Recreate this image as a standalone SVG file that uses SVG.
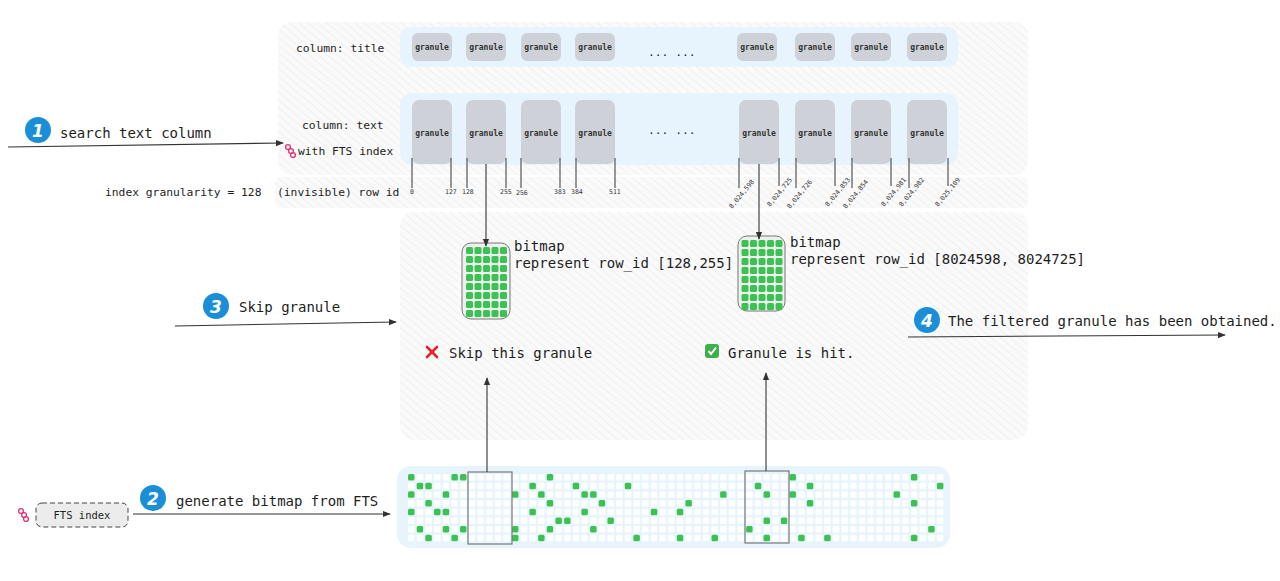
<svg xmlns="http://www.w3.org/2000/svg" width="1280" height="581" viewBox="0 0 1280 581">
<defs>
<pattern id="hatch" width="6" height="6" patternUnits="userSpaceOnUse" patternTransform="rotate(-50)">
<rect width="6" height="6" fill="#fafafa"/>
<line x1="0" y1="0" x2="0" y2="6" stroke="#e6e6e6" stroke-width="1"/>
</pattern>
<pattern id="cellp" x="408" y="474" width="8.67" height="8.67" patternUnits="userSpaceOnUse"><rect width="6.5" height="6.5" rx="1.5" fill="#fff"/></pattern>
<marker id="ah" viewBox="0 0 10 10" refX="9" refY="5" markerWidth="8" markerHeight="8" orient="auto-start-reverse" markerUnits="userSpaceOnUse">
<path d="M0,1 L10,5 L0,9 z" fill="#333"/>
</marker>
<g id="link"><circle cx="-2" cy="-4" r="2.4" fill="none" stroke="#e0357a" stroke-width="1.4"/><circle cx="1" cy="0" r="2.4" fill="none" stroke="#e0357a" stroke-width="1.4"/><circle cx="3" cy="4" r="2.4" fill="none" stroke="#e0357a" stroke-width="1.4"/></g>
<g id="mini">
<rect x="0" y="0" width="7" height="7" rx="1.5"/><rect x="8.5" y="0" width="7" height="7" rx="1.5"/><rect x="17" y="0" width="7" height="7" rx="1.5"/><rect x="25.5" y="0" width="7" height="7" rx="1.5"/><rect x="34" y="0" width="7" height="7" rx="1.5"/>
</g>
<g id="minigrid">
<use href="#mini" y="0"/><use href="#mini" y="9"/><use href="#mini" y="18"/><use href="#mini" y="27"/>
<use href="#mini" y="36"/><use href="#mini" y="45"/><use href="#mini" y="54"/><use href="#mini" y="63"/>
</g>
</defs>
<style>
text{font-family:"DejaVu Sans Mono","Liberation Mono",monospace;fill:#1e1e1e}
.m{font-size:14px}
.s{font-size:11.3px}
.g{font-size:8px;font-weight:bold;fill:#333;text-anchor:middle}
.t{font-size:6.5px;fill:#333}
.band{fill:#e7f4fd}
.gr{fill:#ced2d8}
.tick{stroke:#555;stroke-width:1.2}
.c{stroke:#333;stroke-width:1.1;fill:none}
.num{fill:#1a8fd8}
.nt{font-family:"DejaVu Sans","Liberation Sans",sans-serif;font-size:17px;font-weight:bold;font-style:italic;fill:#fff;text-anchor:middle}
.on{fill:#3cc153}
</style>
<rect width="1280" height="581" fill="#fff"/>
<g id="bg">
<rect x="278" y="22" width="750" height="153" rx="14" fill="url(#hatch)"/>
<rect x="275" y="177" width="753" height="31" rx="6" fill="url(#hatch)"/>
<rect x="400" y="212" width="628" height="228" rx="14" fill="url(#hatch)"/>
</g>
<g id="col-title">
<text class="s" x="296" y="52">column: title</text>
<rect class="band" x="400" y="27" width="558" height="40" rx="10"/>
<rect class="gr" x="412" y="33" width="40" height="28" rx="6"/><text class="g" x="432" y="50">granule</text>
<rect class="gr" x="466" y="33" width="40" height="28" rx="6"/><text class="g" x="486" y="50">granule</text>
<rect class="gr" x="521" y="33" width="40" height="28" rx="6"/><text class="g" x="541" y="50">granule</text>
<rect class="gr" x="575" y="33" width="40" height="28" rx="6"/><text class="g" x="595" y="50">granule</text>
<text class="s" x="648" y="56">...  ...</text>
<rect class="gr" x="737" y="33" width="40" height="28" rx="6"/><text class="g" x="757" y="50">granule</text>
<rect class="gr" x="795" y="33" width="40" height="28" rx="6"/><text class="g" x="815" y="50">granule</text>
<rect class="gr" x="851" y="33" width="40" height="28" rx="6"/><text class="g" x="871" y="50">granule</text>
<rect class="gr" x="907" y="33" width="40" height="28" rx="6"/><text class="g" x="927" y="50">granule</text>
</g>
<g id="col-text">
<text class="s" x="302" y="129">column: text</text>
<use href="#link" x="290" y="151"/>
<text class="s" x="298" y="155">with FTS index</text>
<rect class="band" x="400" y="93" width="558" height="72" rx="12"/>
<rect class="gr" x="412" y="100" width="40" height="64" rx="7"/><text class="g" x="432" y="136">granule</text>
<rect class="gr" x="466" y="100" width="40" height="64" rx="7"/><text class="g" x="486" y="136">granule</text>
<rect class="gr" x="521" y="100" width="40" height="64" rx="7"/><text class="g" x="541" y="136">granule</text>
<rect class="gr" x="575" y="100" width="40" height="64" rx="7"/><text class="g" x="595" y="136">granule</text>
<text class="s" x="648" y="134">...  ...</text>
<rect class="gr" x="739" y="100" width="40" height="64" rx="7"/><text class="g" x="759" y="136">granule</text>
<rect class="gr" x="795" y="100" width="40" height="64" rx="7"/><text class="g" x="815" y="136">granule</text>
<rect class="gr" x="851" y="100" width="40" height="64" rx="7"/><text class="g" x="871" y="136">granule</text>
<rect class="gr" x="907" y="100" width="40" height="64" rx="7"/><text class="g" x="927" y="136">granule</text>
</g>
<g id="rowid">
<text class="s" x="105" y="196">index granularity = 128</text>
<text class="s" x="277" y="196">(invisible) row id</text>
<g class="tick">
<line x1="412" y1="158" x2="412" y2="188"/><line x1="451" y1="158" x2="451" y2="188"/>
<line x1="467" y1="158" x2="467" y2="188"/><line x1="506" y1="158" x2="506" y2="188"/>
<line x1="521" y1="158" x2="521" y2="188"/><line x1="560" y1="158" x2="560" y2="188"/>
<line x1="576" y1="158" x2="576" y2="188"/><line x1="615" y1="158" x2="615" y2="188"/>
<line x1="739" y1="158" x2="739" y2="188"/><line x1="779" y1="158" x2="779" y2="186"/>
<line x1="796" y1="158" x2="796" y2="188"/><line x1="835" y1="158" x2="835" y2="186"/>
<line x1="852" y1="158" x2="852" y2="188"/><line x1="891" y1="158" x2="891" y2="186"/>
<line x1="909" y1="158" x2="909" y2="188"/><line x1="948" y1="158" x2="948" y2="186"/>
</g>
<text class="t" x="410" y="194">0</text><text class="t" x="445" y="194">127</text>
<text class="t" x="462" y="194">128</text><text class="t" x="500" y="194">255</text>
<text class="t" x="516" y="195">256</text><text class="t" x="554" y="194">383</text>
<text class="t" x="571" y="194">384</text><text class="t" x="609" y="194">511</text>
<text class="t" transform="translate(732,209) rotate(-50)">8,024,598</text>
<text class="t" transform="translate(770,207) rotate(-50)">8,024,725</text>
<text class="t" transform="translate(790,209) rotate(-50)">8,024,726</text>
<text class="t" transform="translate(828,207) rotate(-50)">8,024,853</text>
<text class="t" transform="translate(846,209) rotate(-50)">8,024,854</text>
<text class="t" transform="translate(884,207) rotate(-50)">8,024,981</text>
<text class="t" transform="translate(902,207) rotate(-50)">8,024,982</text>
<text class="t" transform="translate(938,207) rotate(-50)">8,025,109</text>
</g>
<g id="bitmap-left">
<rect x="462" y="243" width="48" height="76" rx="9" fill="#f0f0f0" stroke="#777" stroke-width="1"/>
<use href="#minigrid" x="466" y="247" class="on"/>
<text class="m" x="514" y="251">bitmap</text>
<text class="m" x="514" y="268">represent row_id [128,255]</text>
</g>
<g id="bitmap-right">
<rect x="738" y="236" width="47" height="75" rx="9" fill="#f0f0f0" stroke="#777" stroke-width="1"/>
<use href="#minigrid" x="741.5" y="240" class="on"/>
<text class="m" x="790" y="247">bitmap</text>
<text class="m" x="790" y="264">represent row_id [8024598, 8024725]</text>
</g>
<g id="results">
<path d="M427,347 L437,357 M437,347 L427,357" stroke="#e2232a" stroke-width="2.6" stroke-linecap="round"/>
<text class="m" x="449" y="358">Skip this granule</text>
<rect x="705" y="344" width="14" height="14" rx="3" fill="#3cb04a"/>
<path d="M708.5,351 L711,354 L716,347.5" stroke="#fff" stroke-width="2" fill="none"/>
<text class="m" x="728" y="358">Granule is hit.</text>
</g>
<g id="bitmap-full">
<rect x="397" y="466" width="553" height="82" rx="14" fill="#e8f4fc"/>
<rect x="408" y="474" width="537" height="69" fill="url(#cellp)"/>
<g class="on">
<rect x="408" y="474" width="6.5" height="6.5" rx="1.5"/><rect x="451.4" y="474" width="6.5" height="6.5" rx="1.5"/><rect x="460" y="474" width="6.5" height="6.5" rx="1.5"/><rect x="546.7" y="474" width="6.5" height="6.5" rx="1.5"/><rect x="789.5" y="474" width="6.5" height="6.5" rx="1.5"/><rect x="910.9" y="474" width="6.5" height="6.5" rx="1.5"/>
<rect x="416.7" y="482.7" width="6.5" height="6.5" rx="1.5"/><rect x="425.3" y="482.7" width="6.5" height="6.5" rx="1.5"/><rect x="529.4" y="482.7" width="6.5" height="6.5" rx="1.5"/><rect x="572.7" y="482.7" width="6.5" height="6.5" rx="1.5"/><rect x="624.8" y="482.7" width="6.5" height="6.5" rx="1.5"/><rect x="754.8" y="482.7" width="6.5" height="6.5" rx="1.5"/><rect x="806.8" y="482.7" width="6.5" height="6.5" rx="1.5"/><rect x="936.9" y="482.7" width="6.5" height="6.5" rx="1.5"/>
<rect x="408" y="491.3" width="6.5" height="6.5" rx="1.5"/><rect x="442.7" y="491.3" width="6.5" height="6.5" rx="1.5"/><rect x="512" y="491.3" width="6.5" height="6.5" rx="1.5"/><rect x="538.1" y="491.3" width="6.5" height="6.5" rx="1.5"/><rect x="581.4" y="491.3" width="6.5" height="6.5" rx="1.5"/><rect x="590.1" y="491.3" width="6.5" height="6.5" rx="1.5"/><rect x="720.1" y="491.3" width="6.5" height="6.5" rx="1.5"/><rect x="763.5" y="491.3" width="6.5" height="6.5" rx="1.5"/><rect x="789.5" y="491.3" width="6.5" height="6.5" rx="1.5"/><rect x="893.5" y="491.3" width="6.5" height="6.5" rx="1.5"/>
<rect x="425.3" y="500" width="6.5" height="6.5" rx="1.5"/><rect x="546.7" y="500" width="6.5" height="6.5" rx="1.5"/><rect x="598.7" y="500" width="6.5" height="6.5" rx="1.5"/><rect x="685.4" y="500" width="6.5" height="6.5" rx="1.5"/><rect x="806.8" y="500" width="6.5" height="6.5" rx="1.5"/><rect x="910.9" y="500" width="6.5" height="6.5" rx="1.5"/>
<rect x="408" y="508.7" width="6.5" height="6.5" rx="1.5"/><rect x="434" y="508.7" width="6.5" height="6.5" rx="1.5"/><rect x="442.7" y="508.7" width="6.5" height="6.5" rx="1.5"/><rect x="529.4" y="508.7" width="6.5" height="6.5" rx="1.5"/><rect x="581.4" y="508.7" width="6.5" height="6.5" rx="1.5"/><rect x="650.8" y="508.7" width="6.5" height="6.5" rx="1.5"/><rect x="676.8" y="508.7" width="6.5" height="6.5" rx="1.5"/>
<rect x="555.4" y="517.4" width="6.5" height="6.5" rx="1.5"/><rect x="564.1" y="517.4" width="6.5" height="6.5" rx="1.5"/><rect x="607.4" y="517.4" width="6.5" height="6.5" rx="1.5"/><rect x="763.5" y="517.4" width="6.5" height="6.5" rx="1.5"/><rect x="780.8" y="517.4" width="6.5" height="6.5" rx="1.5"/>
<rect x="416.7" y="526" width="6.5" height="6.5" rx="1.5"/><rect x="442.7" y="526" width="6.5" height="6.5" rx="1.5"/><rect x="460" y="526" width="6.5" height="6.5" rx="1.5"/><rect x="512" y="526" width="6.5" height="6.5" rx="1.5"/><rect x="546.7" y="526" width="6.5" height="6.5" rx="1.5"/><rect x="590.1" y="526" width="6.5" height="6.5" rx="1.5"/><rect x="746.1" y="526" width="6.5" height="6.5" rx="1.5"/><rect x="928.2" y="526" width="6.5" height="6.5" rx="1.5"/>
<rect x="425.3" y="534.7" width="6.5" height="6.5" rx="1.5"/><rect x="451.4" y="534.7" width="6.5" height="6.5" rx="1.5"/><rect x="512" y="534.7" width="6.5" height="6.5" rx="1.5"/><rect x="538.1" y="534.7" width="6.5" height="6.5" rx="1.5"/><rect x="633.4" y="534.7" width="6.5" height="6.5" rx="1.5"/><rect x="676.8" y="534.7" width="6.5" height="6.5" rx="1.5"/><rect x="711.5" y="534.7" width="6.5" height="6.5" rx="1.5"/><rect x="763.5" y="534.7" width="6.5" height="6.5" rx="1.5"/><rect x="798.2" y="534.7" width="6.5" height="6.5" rx="1.5"/><rect x="824.2" y="534.7" width="6.5" height="6.5" rx="1.5"/><rect x="910.9" y="534.7" width="6.5" height="6.5" rx="1.5"/>
</g>
<rect x="468" y="472" width="44" height="72" fill="none" stroke="#777" stroke-width="1.2"/>
<rect x="745" y="471" width="44" height="72" fill="none" stroke="#777" stroke-width="1.2"/>
</g>
<g id="fts">
<use href="#link" x="23" y="515"/>
<rect x="36" y="503" width="92" height="24" rx="6" fill="#ececec" stroke="#444" stroke-dasharray="5 3"/>
<text class="s" x="82" y="519" text-anchor="middle" style="font-size:10.5px">FTS index</text>
</g>
<g id="labels">
<circle class="num" cx="38" cy="130" r="13"/><text class="nt" x="38" y="137">1</text>
<text class="m" x="60" y="138">search text column</text>
<circle class="num" cx="153" cy="498" r="13"/><text class="nt" x="153" y="505">2</text>
<text class="m" x="176" y="506">generate bitmap from FTS</text>
<circle class="num" cx="216" cy="306" r="13"/><text class="nt" x="216" y="313">3</text>
<text class="m" x="239" y="312">Skip granule</text>
<circle class="num" cx="927" cy="320" r="13"/><text class="nt" x="927" y="327">4</text>
<text class="m" x="948" y="326">The filtered granule has been obtained.</text>
</g>
<g id="connectors" class="c">
<line x1="8" y1="147" x2="283" y2="143" marker-end="url(#ah)"/>
<line x1="133" y1="514" x2="390" y2="514" marker-end="url(#ah)"/>
<line x1="175" y1="326" x2="396" y2="322" marker-end="url(#ah)"/>
<line x1="908" y1="337" x2="1225" y2="335" marker-end="url(#ah)"/>
<line x1="486" y1="164" x2="486" y2="246" marker-end="url(#ah)"/>
<line x1="759" y1="164" x2="759" y2="239" marker-end="url(#ah)"/>
<line x1="487" y1="472" x2="487" y2="378" marker-end="url(#ah)"/>
<line x1="766" y1="471" x2="766" y2="373" marker-end="url(#ah)"/>
</g>
</svg>
